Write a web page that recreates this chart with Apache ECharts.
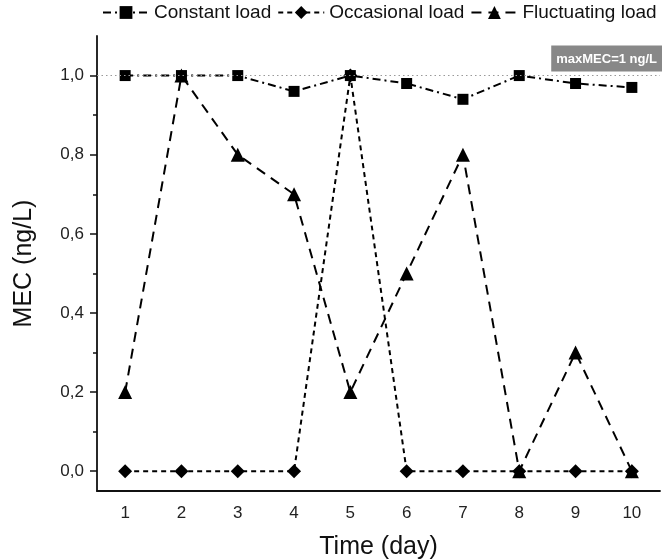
<!DOCTYPE html>
<html>
<head>
<meta charset="utf-8">
<script src="https://cdn.jsdelivr.net/npm/echarts@6/dist/echarts.min.js"></script>
<style>
  html, body { margin: 0; padding: 0; background: #fff; }
  #chart { width: 665px; height: 559px; }
</style>
</head>
<body>
<div id="chart"></div>
<script>
const days = ['1', '2', '3', '4', '5', '6', '7', '8', '9', '10']
const constantLoad = [1.0, 1.0, 1.0, 0.96, 1.0, 0.98, 0.94, 1.0, 0.98, 0.97]
const occasionalLoad = [0, 0, 0, 0, 1.0, 0, 0, 0, 0, 0]
const fluctuatingLoad = [0.2, 1.0, 0.8, 0.7, 0.2, 0.5, 0.8, 0, 0.3, 0]
const majorTicks = [0, 0.2, 0.4, 0.6, 0.8, 1.0]
const minorTicks = [0.1, 0.3, 0.5, 0.7, 0.9]
const maxMEC = 1

const font = 'Liberation Sans, Arial, sans-serif'
const chart = echarts.init(document.getElementById('chart'))

const option = {
  animation: false,
  textStyle: { fontFamily: font },
  legend: {
    top: 3,
    left: 102,
    width: 563,
    padding: 0,
    itemWidth: 46,
    itemHeight: 16,
    itemGap: 6,
    textStyle: { fontSize: 19, color: '#111', fontFamily: font },
    data: ['Constant load', 'Occasional load', 'Fluctuating load'],
  },
  grid: { left: 97, right: 5, top: 36, bottom: 68, outerBoundsMode: 'none' },
  xAxis: {
    type: 'category',
    data: days,
    boundaryGap: true,
    name: 'Time (day)',
    nameLocation: 'middle',
    nameGap: 44,
    nameTextStyle: { fontSize: 25, color: '#111', fontFamily: font },
    axisLine: { onZero: false, lineStyle: { color: '#111', width: 1.8 } },
    axisTick: { alignWithLabel: true, length: 7, lineStyle: { color: '#111', width: 1.5 } },
    axisLabel: { fontSize: 17, color: '#222', margin: 14, fontFamily: font },
    splitLine: { show: false },
  },
  yAxis: [{
    type: 'value',
    min: -0.05,
    max: 1.1,
    name: 'MEC (ng/L)',
    nameLocation: 'middle',
    nameRotate: 90,
    nameGap: 60,
    nameTextStyle: { fontSize: 25, color: '#111', fontFamily: font },
    axisLine: { show: true, onZero: false, lineStyle: { color: '#111', width: 1.8 } },
    axisTick: { show: true, customValues: majorTicks, length: 7, lineStyle: { color: '#111', width: 1.5 } },
    axisLabel: {
      customValues: majorTicks,
      fontSize: 17,
      color: '#222',
      margin: 13,
      fontFamily: font,
      formatter: v => v.toFixed(1).replace('.', ','),
    },
    splitLine: { show: false },
  }, {
    type: 'value',
    min: -0.05,
    max: 1.1,
    position: 'left',
    axisLine: { show: false },
    axisTick: { show: true, customValues: minorTicks, length: 4, lineStyle: { color: '#111', width: 1.5 } },
    axisLabel: { show: false },
    splitLine: { show: false },
  }],
  series: [{
    name: 'Constant load',
    type: 'line',
    data: constantLoad,
    symbol: 'rect',
    symbolSize: 11,
    itemStyle: { color: '#000' },
    lineStyle: { color: '#000', width: 2, type: [8, 4, 2, 4] },
    z: 3,
    markLine: {
      silent: true,
      symbol: 'none',
      data: [{ yAxis: maxMEC }],
      lineStyle: { color: '#999', type: [1.5, 3], width: 1.2 },
      label: {
        position: 'insideEndTop',
        formatter: 'maxMEC=1 ng/L',
        color: '#fff',
        fontWeight: 'bold',
        fontSize: 13,
        fontFamily: font,
        backgroundColor: '#888',
        padding: [7, 5, 6, 5],
        distance: [-2, 4],
      },
    },
  }, {
    name: 'Occasional load',
    type: 'line',
    data: occasionalLoad,
    symbol: 'diamond',
    symbolSize: 14,
    itemStyle: { color: '#000' },
    lineStyle: { color: '#000', width: 2, type: [5, 4] },
    z: 2,
  }, {
    name: 'Fluctuating load',
    type: 'line',
    data: fluctuatingLoad,
    symbol: 'triangle',
    symbolSize: 14,
    itemStyle: { color: '#000' },
    lineStyle: { color: '#000', width: 2, type: [10, 7] },
    z: 2,
  }],
}

chart.setOption(option)
</script>
</body>
</html>
